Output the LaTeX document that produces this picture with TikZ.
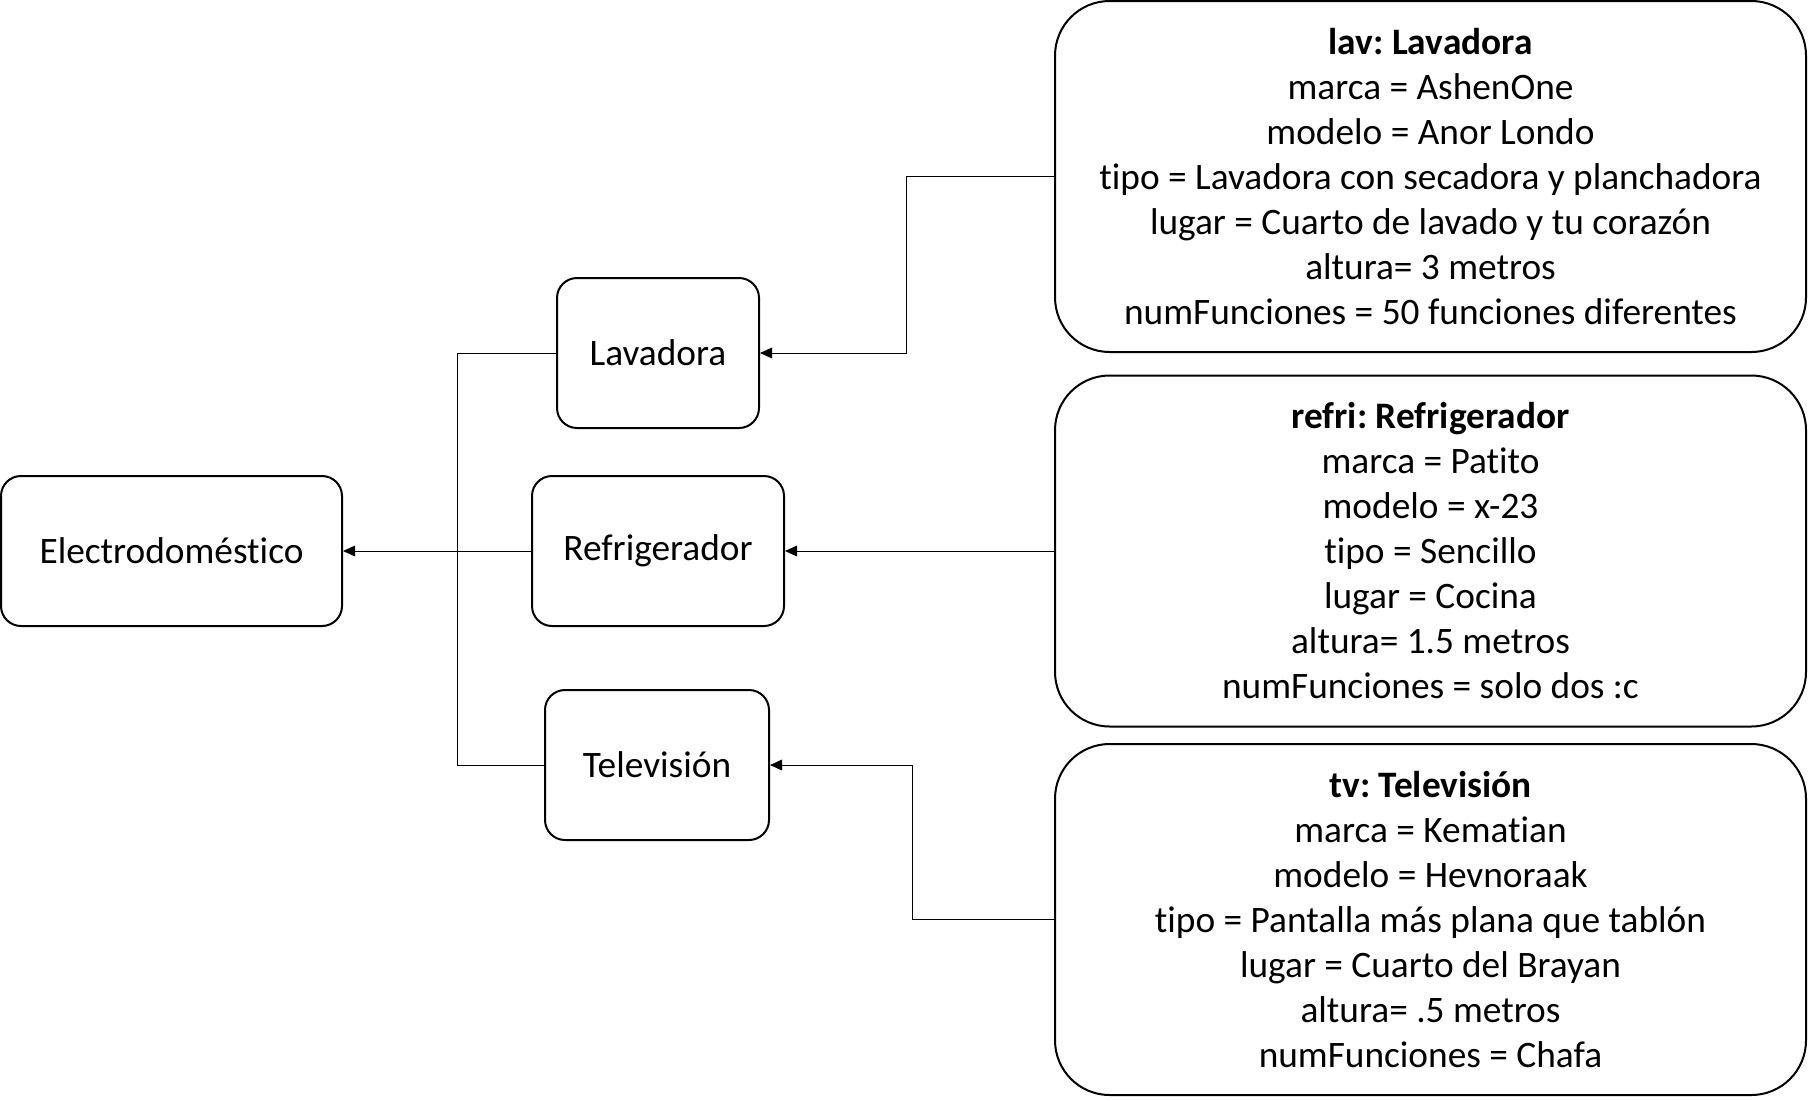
\documentclass[tikz,border=0pt]{standalone}
\usepackage{fontspec}
\setmainfont[Ligatures=NoCommon]{Carlito}
\frenchspacing
\usetikzlibrary{arrows.meta,positioning,calc}

\begin{document}
\begin{tikzpicture}[
    x=0.75pt,y=-0.75pt,
    clase/.style={draw,line width=1.5pt,rounded corners=15pt,align=center,font=\fontsize{28}{33}\selectfont,minimum height=112.5pt,inner sep=0pt},
    objeto/.style={draw,line width=1.5pt,rounded corners=41pt,align=center,font=\fontsize{28}{33.75}\selectfont,minimum width=563.25pt,minimum height=263.25pt,inner sep=0pt},
    linea/.style={line width=0.75pt},
    >={Triangle[length=9pt,width=8pt]}
]
\useasboundingbox (0,0) rectangle (1808,1100);

\node[clase,minimum width=255.75pt] (electro) at (171.5,551) {Electrodoméstico};
\node[clase,minimum width=151.5pt] (lavadora) at (658,353) {Lavadora};
\node[clase,minimum width=189pt] (refri) at (658,551) {Refrigerador};
\node[clase,minimum width=168pt] (tele) at (657,765) {Televisión};

\node[objeto] (lavobj) at (1430.5,176.5) {\textbf{lav: Lavadora}\\marca = AshenOne\\modelo = Anor Londo\\tipo = Lavadora con secadora y planchadora\\lugar = Cuarto de lavado y tu corazón\\altura= 3 metros\\numFunciones = 50 funciones diferentes};
\node[objeto] (refriobj) at (1430.5,551) {\textbf{refri: Refrigerador}\\marca = Patito\\modelo = x-23\\tipo = Sencillo\\lugar = Cocina\\altura= 1.5 metros\\numFunciones = solo dos :c};
\node[objeto] (teleobj) at (1430.5,919.5) {\textbf{tv: Televisión}\\marca = Kematian\\modelo = Hevnoraak\\tipo = Pantalla más plana que tablón\\lugar = Cuarto del Brayan\\altura= .5 metros\\numFunciones = Chafa};

\draw[linea,->] (lavobj.west) -- ++(-148,0) |- (lavadora.east);
\draw[linea,->] (refriobj.west) -- (refri.east);
\draw[linea,->] (teleobj.west) -- ++(-142,0) |- (tele.east);
\draw[linea,->] (refri.west) -- (electro.east);
\draw[linea] (lavadora.west) -- ++(-99,0) |- (tele.west);
\end{tikzpicture}
\end{document}
